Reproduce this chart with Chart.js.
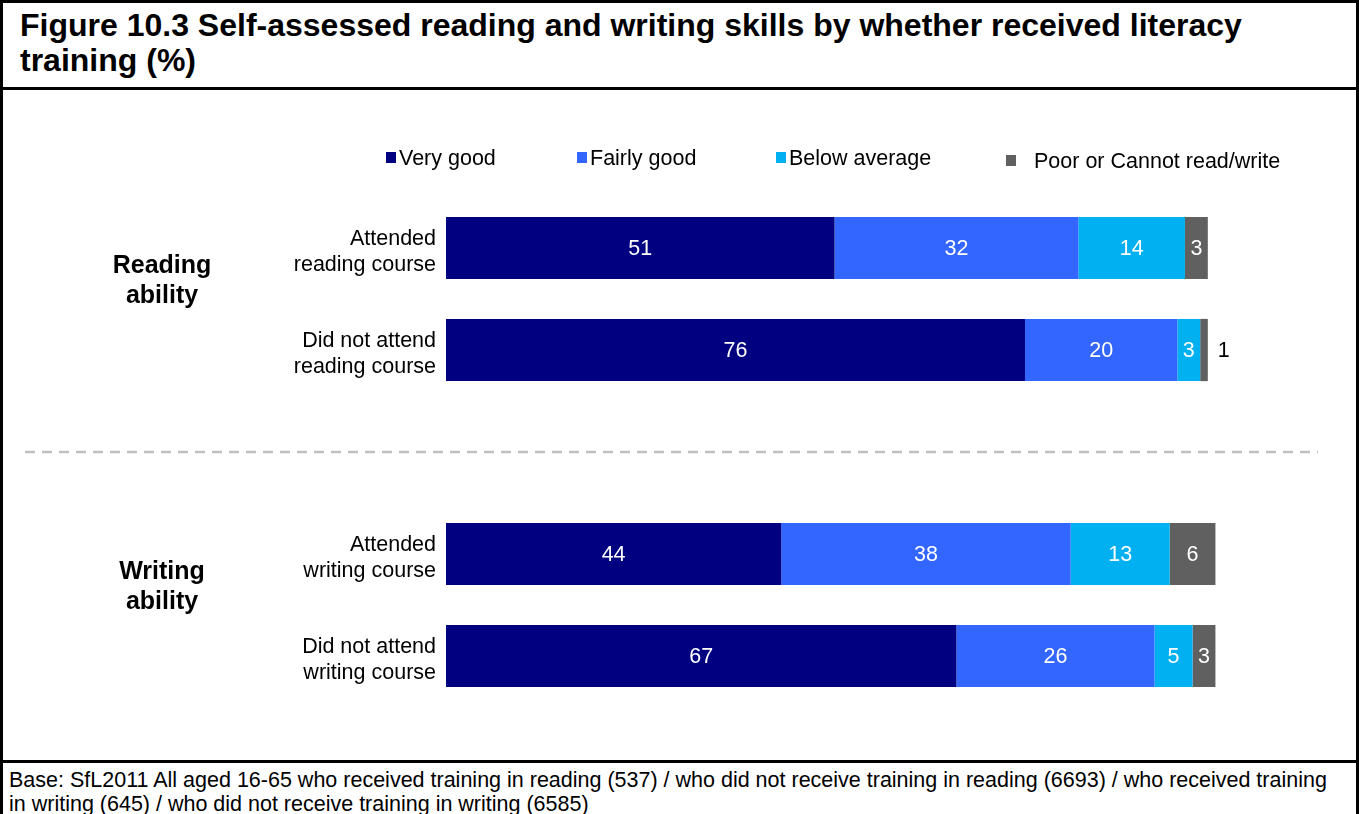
<!DOCTYPE html>
<html>
<head>
<meta charset="utf-8">
<title>Figure 10.3</title>
<script src="https://cdn.jsdelivr.net/npm/chart.js"></script>
<style>
    body { margin: 0; background: #fff; font-family: 'Liberation Sans', Arial, sans-serif; }
    #frame { position: absolute; left: 0; top: 0; width: 1359px; height: 814px; box-sizing: border-box;
             border-left: 3px solid #000; border-right: 3px solid #000; border-top: 3px solid #000; overflow: hidden; }
    #title { position: absolute; left: 0; top: 0; width: 1353px; height: 84px; border-bottom: 3px solid #000; }
    #title h1 { margin: 0; position: absolute; left: 17px; top: 5px; font-size: 32px; line-height: 35px; font-weight: bold; color: #000; white-space: nowrap; }
    #chartBox { position: absolute; left: 0; top: 88px; width: 1353px; height: 667px; }
    #legend { position: absolute; left: 0; top: 0; width: 1353px; height: 200px; pointer-events: none; }
    .lg { position: absolute; font-size: 21.5px; line-height: 24px; color: #000; white-space: nowrap; }
    .lg i { position: absolute; width: 10px; height: 11px; }
    #footer { position: absolute; left: 0; top: 757px; width: 1353px; border-top: 3px solid #000; }
    #footer p { margin: 0; padding: 5px 0 0 6px; font-size: 21.5px; line-height: 24px; color: #000; white-space: nowrap; }
</style>
</head>
<body>
<div id="frame">
    <div id="title"><h1>Figure 10.3 Self-assessed reading and writing skills by whether received literacy<br>training (%)</h1></div>
    <div id="chartBox"><canvas id="chart"></canvas></div>
    <div id="legend"></div>
    <div id="footer"><p>Base: SfL2011 All aged 16-65 who received training in reading (537) / who did not receive training in reading (6693) / who received training<br>in writing (645) / who did not receive training in writing (6585)</p></div>
</div>
<script>
// rows: reading attended, reading not attended, (gap), writing attended, writing not attended
const categories = [
    ['Attended', 'reading course'],
    ['Did not attend', 'reading course'],
    '',
    ['Attended', 'writing course'],
    ['Did not attend', 'writing course']
];
const groupLabels = [['Reading', 'ability'], ['Writing', 'ability']];
const seriesNames = ['Very good', 'Fairly good', 'Below average', 'Poor or Cannot read/write'];
const veryGood     = [51, 76, null, 44, 67];
const fairlyGood   = [32, 20, null, 38, 26];
const belowAverage = [14, 3, null, 13, 5];
const poor         = [3, 1, null, 6, 3];
const colours = ['#000080', '#3366FF', '#00B0F0', '#606060'];

// legend placed like the original (uneven spacing)
const legendPos = [[383, 396, 155], [574, 587, 155], [773, 786, 155], [1003, 1031, 158]];
const legend = document.getElementById('legend');
seriesNames.forEach((name, i) => {
    const [bx, tx, cy] = legendPos[i];
    const box = document.createElement('div');
    box.className = 'lg';
    box.style.left = bx + 'px';
    box.style.top = (cy - 6) + 'px';
    box.innerHTML = '<i style="background:' + colours[i] + ';left:0;top:0"></i>';
    legend.appendChild(box);
    const txt = document.createElement('div');
    txt.className = 'lg';
    txt.style.left = tx + 'px';
    txt.style.top = (cy - 12) + 'px';
    txt.textContent = name;
    legend.appendChild(txt);
});

const valueLabels = {
    id: 'valueLabels',
    afterDatasetsDraw(chart) {
        const ctx = chart.ctx;
        ctx.save();
        ctx.font = '21.5px "Liberation Sans", Arial, sans-serif';
        ctx.textBaseline = 'middle';
        chart.data.datasets.forEach((ds, di) => {
            chart.getDatasetMeta(di).data.forEach((bar, i) => {
                const v = ds.data[i];
                if (v == null) return;
                if (v < 2) {
                    ctx.fillStyle = '#000';
                    ctx.textAlign = 'left';
                    ctx.fillText(v, bar.x + 10, bar.y + 1);
                } else {
                    ctx.fillStyle = '#fff';
                    ctx.textAlign = 'center';
                    ctx.fillText(v, (bar.x + bar.base) / 2, bar.y + 1);
                }
            });
        });
        ctx.restore();
    }
};

const groupsAndDivider = {
    id: 'groupsAndDivider',
    afterDraw(chart) {
        const ctx = chart.ctx;
        const y = chart.scales.y;
        ctx.save();
        // dashed divider on the empty row
        const yd = y.getPixelForValue(2);
        ctx.strokeStyle = '#C0C0C0';
        ctx.lineWidth = 2.5;
        ctx.setLineDash([10, 7]);
        ctx.beginPath();
        ctx.moveTo(22, yd);
        ctx.lineTo(1315, yd);
        ctx.stroke();
        ctx.setLineDash([]);
        // bold group labels
        ctx.font = 'bold 25px "Liberation Sans", Arial, sans-serif';
        ctx.fillStyle = '#000';
        ctx.textAlign = 'center';
        ctx.textBaseline = 'middle';
        [[0, 1], [3, 4]].forEach((rows, g) => {
            const mid = (y.getPixelForValue(rows[0]) + y.getPixelForValue(rows[1])) / 2 - 17.5;
            ctx.fillText(groupLabels[g][0], 159, mid - 15);
            ctx.fillText(groupLabels[g][1], 159, mid + 15);
        });
        ctx.restore();
    }
};

const series = [veryGood, fairlyGood, belowAverage, poor];
new Chart(document.getElementById('chart'), {
    type: 'bar',
    data: {
        labels: categories,
        datasets: series.map((d, i) => ({
            label: seriesNames[i],
            data: d,
            backgroundColor: colours[i],
            borderWidth: 0,
            barPercentage: 0.61,
            categoryPercentage: 1
        }))
    },
    options: {
        indexAxis: 'y',
        responsive: true,
        maintainAspectRatio: false,
        animation: false,
        layout: { padding: { top: 106, bottom: 51, left: 0, right: 72 } },
        scales: {
            x: { stacked: true, display: false, min: 0, max: 110 },
            y: {
                stacked: true,
                grid: { display: false, drawTicks: false },
                border: { display: false },
                afterFit(scale) { scale.width = 443; },
                ticks: {
                    padding: 10,
                    labelOffset: 4,
                    color: '#000',
                    font: { family: '"Liberation Sans", Arial, sans-serif', size: 21.5, lineHeight: 1.21 }
                }
            }
        },
        plugins: {
            legend: { display: false },
            tooltip: { enabled: false }
        }
    },
    plugins: [valueLabels, groupsAndDivider]
});
</script>
</body>
</html>
